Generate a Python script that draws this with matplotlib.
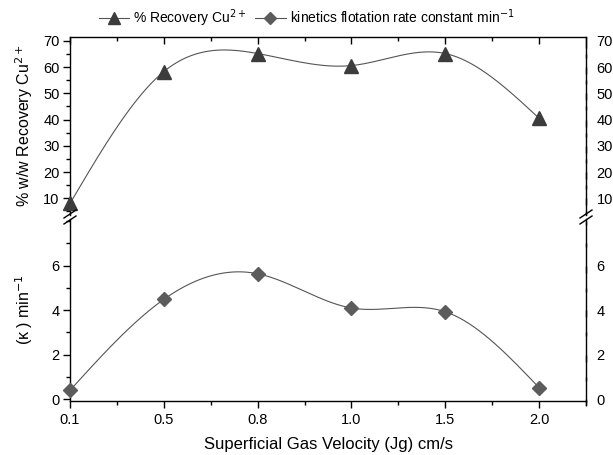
import numpy as np
import matplotlib.pyplot as plt
from matplotlib.lines import Line2D
from matplotlib.ticker import MultipleLocator

plt.rcParams['font.family'] = ['Liberation Sans', 'DejaVu Sans']

# data
jg_labels = ['0.1', '0.5', '0.8', '1.0', '1.5', '2.0']
recovery = [8.0, 58.3, 65.2, 60.6, 65.2, 40.5]
kappa = [0.40, 4.49, 5.64, 4.10, 3.93, 0.52]


def natural_spline(x, y, xs):
    # plain natural cubic spline, no scipy needed
    x = np.asarray(x, float)
    y = np.asarray(y, float)
    n = len(x)
    h = np.diff(x)
    A = np.zeros((n, n))
    b = np.zeros(n)
    A[0, 0] = A[-1, -1] = 1.0
    for i in range(1, n - 1):
        A[i, i - 1] = h[i - 1]
        A[i, i] = 2 * (h[i - 1] + h[i])
        A[i, i + 1] = h[i]
        b[i] = 6 * ((y[i + 1] - y[i]) / h[i] - (y[i] - y[i - 1]) / h[i - 1])
    M = np.linalg.solve(A, b)
    idx = np.clip(np.searchsorted(x, xs) - 1, 0, n - 2)
    x0, x1 = x[idx], x[idx + 1]
    hh = x1 - x0
    t0 = x1 - xs
    t1 = xs - x0
    return (M[idx] * t0**3 / (6 * hh) + M[idx + 1] * t1**3 / (6 * hh)
            + (y[idx] / hh - M[idx] * hh / 6) * t0
            + (y[idx + 1] / hh - M[idx + 1] * hh / 6) * t1)


xi = np.arange(len(jg_labels))
xs = np.linspace(0, len(jg_labels) - 1, 400)

W, H = 613, 455
fig = plt.figure(figsize=(W / 100, H / 100), dpi=100)

left, right = 70 / W, 586 / W
top_px, bot_px, brk_px = 37, 401, 217
gap = 2
ax_top = fig.add_axes([left, 1 - (brk_px - gap) / H, right - left, (brk_px - gap - top_px) / H])
ax_bot = fig.add_axes([left, 1 - bot_px / H, right - left, (bot_px - brk_px - gap) / H])

line_kw = dict(color='#555555', lw=0.8)
ax_top.plot(xs, natural_spline(xi, recovery, xs), **line_kw)
ax_top.plot(xi, recovery, ls='none', marker='^', ms=9.5, color='#3c3c3c', clip_on=False, zorder=5)
ax_bot.plot(xs, natural_spline(xi, kappa, xs), **line_kw)
ax_bot.plot(xi, kappa, ls='none', marker='D', ms=7.5, color='#5c5c5c', clip_on=False, zorder=5)

for ax in (ax_top, ax_bot):
    ax.set_xlim(0, 5.5)
    ax.set_xticks(xi)
    ax.xaxis.set_minor_locator(MultipleLocator(0.5))
    ax.tick_params(which='both', labelsize=10.5, width=1)
    ax.tick_params(which='major', length=5)
    ax.tick_params(which='minor', length=3)
    ax.tick_params(axis='y', which='both', pad=2.5)
    for s in ax.spines.values():
        s.set_linewidth(1)

ax_top.set_ylim(3.6, 71.5)
ax_top.yaxis.set_minor_locator(MultipleLocator(5))
ax_top.set_yticks(range(10, 71, 10))
ax_top.spines['bottom'].set_visible(False)
ax_top.tick_params(axis='x', which='both', bottom=False, labelbottom=False,
                   top=True, direction='in')
ax_top.tick_params(axis='y', which='both', left=True, right=True,
                   labelright=True, direction='out')

ax_bot.set_ylim(-0.08, 8.1)
ax_bot.set_yticks(range(0, 7, 2))
ax_bot.yaxis.set_minor_locator(MultipleLocator(1))
ax_bot.spines['top'].set_visible(False)
ax_bot.set_xticklabels(jg_labels)
ax_bot.tick_params(axis='x', which='both', top=False, direction='out', pad=4)
ax_bot.tick_params(axis='y', which='both', right=True, labelright=True, direction='out')

# right side ticks point inward
for ax in (ax_top, ax_bot):
    for t in ax.yaxis.get_major_ticks() + ax.yaxis.get_minor_ticks():
        t.tick2line.set_marker(3)

ax_top.set_ylabel('% w/w Recovery Cu$^{2+}$', fontsize=11.5, labelpad=6)
ax_bot.set_ylabel('(\u03ba ) min$^{-1}$', fontsize=11.5, labelpad=12)
ax_bot.set_xlabel('Superficial Gas Velocity (Jg) cm/s', fontsize=12, labelpad=7)
fig.align_ylabels([ax_top, ax_bot])

# axis break marks on both spines
for xpx in (70, 586):
    for dy in (-3, 3):
        x0 = xpx - 6
        y0 = brk_px + dy + 4
        fig.add_artist(Line2D([x0 / W, (x0 + 12) / W],
                              [1 - y0 / H, 1 - (y0 - 8) / H],
                              transform=fig.transFigure, color='black', lw=1))

handles = [Line2D([], [], color='#555555', lw=0.8, marker='^', ms=8, markerfacecolor='#3c3c3c',
                  markeredgecolor='#3c3c3c'),
           Line2D([], [], color='#555555', lw=0.8, marker='D', ms=6.5, markerfacecolor='#5c5c5c',
                  markeredgecolor='#5c5c5c')]
fig.legend(handles, ['% Recovery Cu$^{2+}$', 'kinetics flotation rate constant min$^{-1}$'],
           loc='center', bbox_to_anchor=(0.5, 1 - 18 / H), ncol=2, frameon=False,
           fontsize=10, handlelength=2.2, columnspacing=0.6, handletextpad=0.3)

fig.savefig('out.png', dpi=100)
